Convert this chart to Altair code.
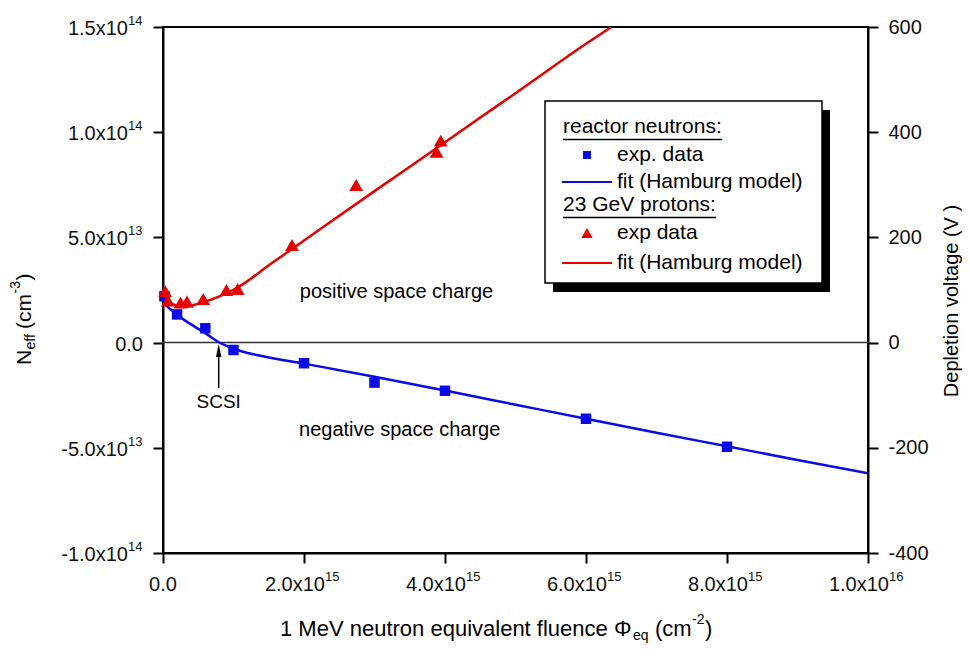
import altair as alt
import pandas as pd

FONT = "Liberation Sans"
BLUE = "#0a0ae6"
RED = "#e60000"
W, H = 705, 526

# ---- data ----
neutron_phi = [0.02e15, 0.2e15, 0.6e15, 1.0e15, 2.0e15, 3.0e15, 4.0e15, 6.0e15, 8.0e15]
neutron_neff = [2.2e13, 1.34e13, 0.68e13, -0.35e13, -0.98e13, -1.9e13, -2.29e13, -3.62e13, -4.95e13]

neutron_fit_phi = [0.0, 0.1e15, 0.21e15, 0.3e15, 0.45e15, 0.6e15, 0.78e15, 0.95e15, 1.11e15,
                   1.45e15, 2.0e15, 3.0e15, 4.0e15, 5.0e15, 6.0e15, 7.0e15, 8.0e15, 9.0e15, 10.0e15]
neutron_fit_neff = [1.9e13, 1.6e13, 1.3e13, 1.08e13, 0.76e13, 0.45e13, 0.04e13, -0.22e13, -0.41e13,
                    -0.67e13, -1.0e13, -1.62e13, -2.28e13, -2.95e13, -3.62e13, -4.28e13, -4.93e13, -5.58e13, -6.21e13]

proton_phi = [0.03e15, 0.07e15, 0.25e15, 0.34e15, 0.57e15, 0.9e15, 1.06e15, 1.83e15, 2.74e15, 3.88e15, 3.94e15]
proton_neff = [2.45e13, 2.0e13, 1.9e13, 1.95e13, 2.07e13, 2.5e13, 2.55e13, 4.64e13, 7.49e13, 9.07e13, 9.6e13]

proton_fit_phi = [0.0, 0.1e15, 0.2e15, 0.3e15, 0.45e15, 0.6e15, 0.8e15, 1.06e15, 1.52e15,
                  2.0e15, 3.0e15, 4.0e15, 4.45e15, 5.0e15, 6.0e15, 6.36e15]
proton_fit_neff = [2.2e13, 1.9e13, 1.75e13, 1.7e13, 1.8e13, 1.95e13, 2.2e13, 2.62e13, 3.72e13,
                   4.85e13, 7.2e13, 9.52e13, 10.58e13, 11.85e13, 14.2e13, 15.0e13]

y_tick_values = [1.5e14, 1.0e14, 5.0e13, -5.0e13, -1.0e14]
y_tick_mant = ["1.5x10", "1.0x10", "5.0x10", "-5.0x10", "-1.0x10"]
y_tick_exp = ["14", "14", "13", "13", "14"]
y_all_ticks = [-1.0e14, -5.0e13, 0.0, 5.0e13, 1.0e14, 1.5e14]

x_tick_values = [2e15, 4e15, 6e15, 8e15, 1e16]
x_tick_mant = ["2.0x10", "4.0x10", "6.0x10", "8.0x10", "1.0x10"]
x_tick_exp = ["15", "15", "15", "15", "16"]
x_all_ticks = [0.0, 2e15, 4e15, 6e15, 8e15, 1e16]

v_ticks = [-400, -200, 0, 200, 400, 600]

scsi_phi = 0.79e15

# ---- scales / axes ----
xs = alt.Scale(domain=[0, 1e16], nice=False, zero=False)
ys = alt.Scale(domain=[-1e14, 1.5e14], nice=False, zero=False)
xaxis = alt.Axis(values=x_all_ticks, labels=False, title=None, tickSize=10, tickWidth=2,
                 domainWidth=2, domainColor="black", tickColor="black", grid=False)
yaxis = alt.Axis(values=y_all_ticks, labels=False, title=None, tickSize=10, tickWidth=2,
                 domainWidth=2, domainColor="black", tickColor="black", grid=False)


def X(f):
    return alt.X(f, type="quantitative", scale=xs, axis=xaxis)


def Y(f):
    return alt.Y(f, type="quantitative", scale=ys, axis=yaxis)


one = pd.DataFrame({"k": [0]})


def txt(s, x, y, size=20, align="left", **kw):
    return alt.Chart(one).mark_text(text=s, fontSize=size, align=align, baseline="middle",
                                    font=FONT, color="black", **kw).encode(
        x=alt.value(x), y=alt.value(y))


n_df = pd.DataFrame({"phi": neutron_phi, "neff": neutron_neff})
nf_df = pd.DataFrame({"phi": neutron_fit_phi, "neff": neutron_fit_neff})
p_df = pd.DataFrame({"phi": proton_phi, "neff": proton_neff})
pf_df = pd.DataFrame({"phi": proton_fit_phi, "neff": proton_fit_neff})
zero_df = pd.DataFrame({"v": [0.0]})
ylab_df = pd.DataFrame({"v": y_tick_values, "m": y_tick_mant, "e": y_tick_exp})
xlab_df = pd.DataFrame({"v": x_tick_values, "m": x_tick_mant, "e": x_tick_exp})
arrow_df = pd.DataFrame({"phi": [scsi_phi], "y1": [-2.16e13], "y2": [-0.5e13], "tip": [-0.37e13],
                         "label": [-2.82e13]})

layers = []
layers.append(alt.Chart(zero_df).mark_rule(color="#333333", strokeWidth=1.5).encode(y=Y("v")))
layers.append(alt.Chart(nf_df).mark_line(color=BLUE, strokeWidth=2.5, clip=True, interpolate="monotone")
              .encode(x=X("phi"), y=Y("neff")))
layers.append(alt.Chart(pf_df).mark_line(color=RED, strokeWidth=2.5, clip=True, interpolate="monotone")
              .encode(x=X("phi"), y=Y("neff")))
layers.append(alt.Chart(n_df).mark_point(shape="square", filled=True, size=110, color=BLUE, opacity=1)
              .encode(x=X("phi"), y=Y("neff")))
layers.append(alt.Chart(p_df).mark_point(shape="triangle-up", filled=True, size=190, color=RED, opacity=1)
              .encode(x=X("phi"), y=Y("neff")))

# tick labels (left)
layers.append(alt.Chart(ylab_df).mark_text(align="right", baseline="middle", fontSize=20, font=FONT,
                                           color="#111", dy=2)
              .encode(x=alt.value(-35), y=Y("v"), text="m:N"))
layers.append(alt.Chart(ylab_df).mark_text(align="left", baseline="middle", fontSize=13, font=FONT,
                                           color="#111", dy=-6)
              .encode(x=alt.value(-35), y=Y("v"), text="e:N"))
layers.append(alt.Chart(zero_df).mark_text(align="right", baseline="middle", fontSize=20, font=FONT,
                                           color="#111", dy=2, text="0.0")
              .encode(x=alt.value(-20), y=Y("v")))
# tick labels (bottom)
layers.append(alt.Chart(xlab_df).mark_text(align="right", baseline="middle", fontSize=20, font=FONT,
                                           color="#111", dx=21)
              .encode(x=X("v"), y=alt.value(H + 32), text="m:N"))
layers.append(alt.Chart(xlab_df).mark_text(align="left", baseline="middle", fontSize=13, font=FONT,
                                           color="#111", dx=21)
              .encode(x=X("v"), y=alt.value(H + 24), text="e:N"))
layers.append(alt.Chart(zero_df).mark_text(align="center", baseline="middle", fontSize=20, font=FONT,
                                           color="#111", text="0.0")
              .encode(x=X("v"), y=alt.value(H + 32)))

# annotations
layers.append(alt.Chart(pd.DataFrame({"phi": [1.94e15], "neff": [2.4e13]}))
              .mark_text(text="positive space charge", align="left", baseline="middle", fontSize=20,
                         font=FONT, color="black").encode(x=X("phi"), y=Y("neff")))
layers.append(alt.Chart(pd.DataFrame({"phi": [1.93e15], "neff": [-4.15e13]}))
              .mark_text(text="negative space charge", align="left", baseline="middle", fontSize=20,
                         font=FONT, color="black").encode(x=X("phi"), y=Y("neff")))
layers.append(alt.Chart(arrow_df).mark_rule(color="black", strokeWidth=1.5)
              .encode(x=X("phi"), y=Y("y1"), y2="y2"))
layers.append(alt.Chart(arrow_df).mark_point(shape="M0,-1L-0.42,1L0.42,1Z", filled=True, size=169,
                                             color="black", opacity=1)
              .encode(x=X("phi"), y=Y("tip")))
layers.append(alt.Chart(arrow_df).mark_text(text="SCSI", align="center", baseline="middle", fontSize=19,
                                            font=FONT, color="black")
              .encode(x=X("phi"), y=Y("label")))

# axis titles
TX, TY = 117, H + 76
layers.append(txt("1 MeV neutron equivalent fluence \u03a6", TX, TY, size=22))
layers.append(txt("eq", TX, TY, size=14, dx=353, dy=7))
layers.append(txt("(cm", TX, TY, size=22, dx=375))
layers.append(txt("-2", TX, TY, size=14, dx=412, dy=-9))
layers.append(txt(")", TX, TY, size=22, dx=425))

YX, YY = -138, 338
layers.append(txt("N", YX, YY, size=21, angle=270))
layers.append(txt("eff", YX, YY, size=14, angle=270, dx=15.5, dy=6))
layers.append(txt("(cm", YX, YY, size=21, angle=270, dx=36))
layers.append(txt("-3", YX, YY, size=14, angle=270, dx=71.5, dy=-9))
layers.append(txt(")", YX, YY, size=21, angle=270, dx=84.5))

layers.append(txt("Depletion voltage (V )", 789, 274, size=20, align="center", angle=270))

# legend
LX0, LX1, LY0, LY1 = 382, 659, 74, 256
layers.append(alt.Chart(one).mark_rect(fill="black").encode(
    x=alt.value(LX0 + 8), x2=alt.value(LX1 + 8), y=alt.value(LY0 + 9), y2=alt.value(LY1 + 9)))
layers.append(alt.Chart(one).mark_rect(fill="white", stroke="black", strokeWidth=1.5).encode(
    x=alt.value(LX0), x2=alt.value(LX1), y=alt.value(LY0), y2=alt.value(LY1)))
layers.append(txt("reactor neutrons:", 400, 100, size=21))
layers.append(alt.Chart(one).mark_rule(color="black", strokeWidth=1.5).encode(
    x=alt.value(400), x2=alt.value(559), y=alt.value(112.5)))
layers.append(alt.Chart(one).mark_point(shape="square", filled=True, size=64, color=BLUE, opacity=1)
              .encode(x=alt.value(424), y=alt.value(128)))
layers.append(txt("exp. data", 454, 128, size=21))
layers.append(alt.Chart(one).mark_rule(color=BLUE, strokeWidth=2).encode(
    x=alt.value(399), x2=alt.value(449), y=alt.value(155)))
layers.append(txt("fit (Hamburg model)", 454, 155, size=21))
layers.append(txt("23 GeV protons:", 400, 178, size=21))
layers.append(alt.Chart(one).mark_rule(color="black", strokeWidth=1.5).encode(
    x=alt.value(400), x2=alt.value(553), y=alt.value(190.5)))
layers.append(alt.Chart(one).mark_point(shape="triangle-up", filled=True, size=130, color=RED, opacity=1)
              .encode(x=alt.value(424), y=alt.value(206)))
layers.append(txt("exp data", 454, 206, size=21))
layers.append(alt.Chart(one).mark_rule(color=RED, strokeWidth=2).encode(
    x=alt.value(399), x2=alt.value(449), y=alt.value(236)))
layers.append(txt("fit (Hamburg model)", 454, 236, size=21))

main = alt.layer(*layers)

right = alt.Chart(pd.DataFrame({"V": v_ticks})).mark_point(opacity=0).encode(
    y=alt.Y("V:Q", scale=alt.Scale(domain=[-400, 600], nice=False, zero=False),
            axis=alt.Axis(orient="right", values=v_ticks, title=None, tickSize=10, tickWidth=2,
                          domainWidth=2, domainColor="black", tickColor="black", grid=False,
                          labelExpr="'' + datum.value",
                          labelFontSize=20, labelFont=FONT, labelColor="#111", labelPadding=10))
)

chart = alt.layer(main, right).resolve_scale(y="independent").properties(
    width=W, height=H,
    autosize=alt.AutoSizeParams(type="none"),
    padding={"left": 155, "top": 19, "right": 94, "bottom": 96},
).configure_view(stroke="black", strokeWidth=2).configure_axis(labelFont=FONT, titleFont=FONT)

chart.save("out.html", embed_options={"renderer": "svg", "actions": False})
